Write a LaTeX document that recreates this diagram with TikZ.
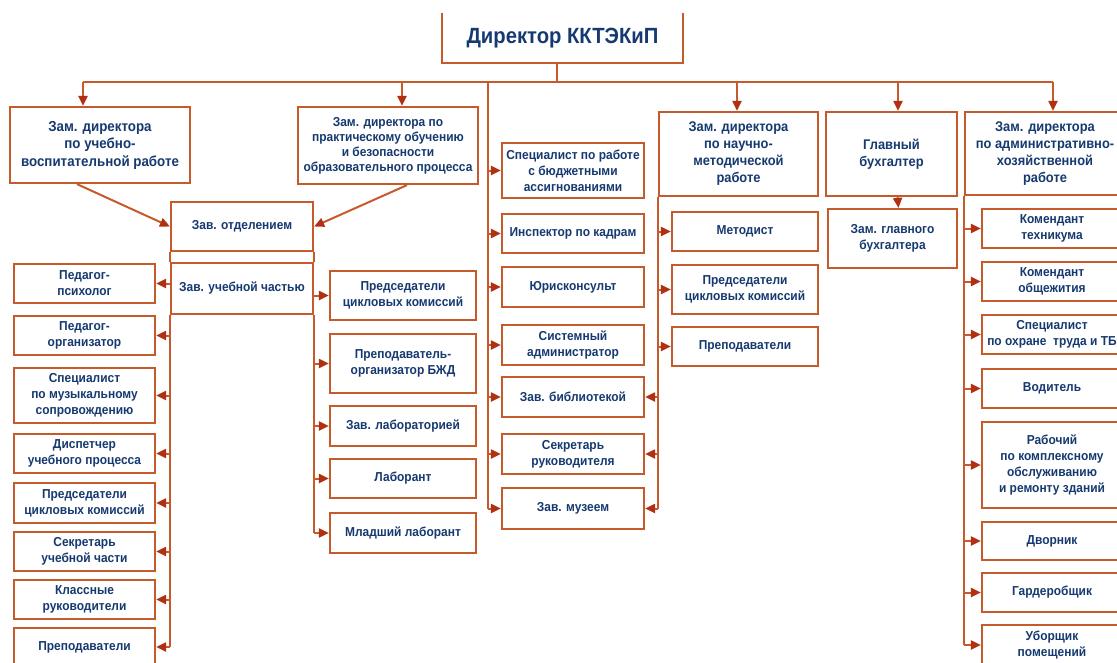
\documentclass[tikz,border=0pt]{standalone}
\usepackage{fontspec}
\newfontfamily\orgfont{Liberation Sans}[FakeStretch=0.92]
\usetikzlibrary{arrows.meta}
\definecolor{LineBrown}{RGB}{198,90,42}
\definecolor{ArrowRed}{RGB}{178,48,18}
\definecolor{TextBlue}{RGB}{22,58,112}

\begin{document}
\begin{tikzpicture}[
    x=1pt, y=-1pt,
    every node/.style={font=\orgfont\bfseries\fontsize{13}{16}\selectfont, text=TextBlue, align=center, inner sep=0pt},
    box/.style={draw=LineBrown, line width=2.2pt, fill=white},
    head/.style={box, font=\orgfont\bfseries\fontsize{14}{17}\selectfont},
    link/.style={draw=LineBrown, line width=2pt},
    arr/.style={link, -{Triangle[length=10pt,width=9pt,color=ArrowRed]}},
    leftcol/.style={box, minimum width=141pt, minimum height=39pt},
    praccol/.style={box, minimum width=146pt, minimum height=40pt},
    midcol/.style={box, minimum width=142pt, minimum height=40pt},
    metcol/.style={box, minimum width=146pt, minimum height=39pt},
    admcol/.style={box, minimum width=140pt, minimum height=39pt},
]
\useasboundingbox (0,0) rectangle (1117,662);
\clip (0,0) rectangle (1117,662);

% top level
\node[minimum width=241pt, minimum height=50pt, font=\orgfont\bfseries\fontsize{22}{26}\selectfont] (dir) at (562.5,38) {Директор ККТЭКиП};
\draw[link, line width=2.2pt] (dir.north west) |- (dir.south east) -- (dir.north east);

\node[head, minimum width=180pt, minimum height=76pt, font=\orgfont\bfseries\fontsize{14.5}{17.5}\selectfont] (zam1) at (100,145) {Зам. директора\\по учебно-\\воспитательной работе};
\node[box, minimum width=180pt, minimum height=77pt, font=\orgfont\bfseries\fontsize{13}{15}\selectfont] (zam2) at (388,145.5) {Зам. директора по\\практическому обучению\\и безопасности\\образовательного процесса};
\node[head, minimum width=159pt, minimum height=84pt] (zam3) at (738.5,154) {Зам. директора\\по научно-\\методической\\работе};
\node[head, minimum width=131pt, minimum height=84pt] (glav) at (891.5,154) {Главный\\бухгалтер};
\node[head, minimum width=160pt, minimum height=83pt] (zam4) at (1045,153.5) {Зам. директора\\по административно-\\хозяйственной\\работе};

% department heads
\node[box, minimum width=142pt, minimum height=49pt] (zotd) at (242,226.5) {Зав. отделением};
\node[box, minimum width=142pt, minimum height=51pt] (zuch) at (242,288.5) {Зав. учебной частью};

% left column
\node[leftcol] (pp) at (84.5,283.5) {Педагог-\\психолог};
\node[leftcol] (po) at (84.5,335.5) {Педагог-\\организатор};
\node[leftcol, minimum height=55pt] (sm) at (84.5,395.5) {Специалист\\по музыкальному\\сопровождению};
\node[leftcol] (disp) at (84.5,453.5) {Диспетчер\\учебного процесса};
\node[leftcol, minimum height=40pt] (pred1) at (84.5,503) {Председатели\\цикловых комиссий};
\node[leftcol] (suc) at (84.5,551.5) {Секретарь\\учебной части};
\node[leftcol] (kr) at (84.5,599.5) {Классные\\руководители};
\node[leftcol, minimum height=38pt] (prep1) at (84.5,647) {Преподаватели};

% practical training column
\node[praccol, minimum height=49pt] (pred2) at (403,295.5) {Председатели\\цикловых комиссий};
\node[praccol, minimum height=59pt] (bzd) at (403,363.5) {Преподаватель-\\организатор БЖД};
\node[praccol] (lab) at (403,426) {Зав. лабораторией};
\node[praccol, minimum height=39pt] (labt) at (403,478.5) {Лаборант};
\node[praccol] (mlab) at (403,533) {Младший лаборант};

% director's staff
\node[midcol, minimum height=55pt] (spec) at (573,170.5) {Специалист по работе\\с бюджетными\\ассигнованиями};
\node[midcol, minimum height=39pt] (insp) at (573,233.5) {Инспектор по кадрам};
\node[midcol] (jur) at (573,287) {Юрисконсульт};
\node[midcol] (sys) at (573,345) {Системный\\администратор};
\node[midcol] (bib) at (573,397) {Зав. библиотекой};
\node[midcol] (sekr) at (573,454) {Секретарь\\руководителя};
\node[midcol, minimum height=41pt] (muz) at (573,508.5) {Зав. музеем};

% methodical column
\node[metcol] (met) at (745,231.5) {Методист};
\node[metcol, minimum height=49pt] (pred3) at (745,289.5) {Председатели\\цикловых комиссий};
\node[metcol] (prep3) at (745,346.5) {Преподаватели};

% accounting
\node[box, minimum width=129pt, minimum height=59pt] (zgb) at (892.5,238.5) {Зам. главного\\бухгалтера};

% administrative column
\node[admcol] (kt) at (1052,228.5) {Комендант\\техникума};
\node[admcol] (ko) at (1052,281.5) {Комендант\\общежития};
\node[admcol] (ot) at (1052,334.5) {Специалист\\по охране~ труда и ТБ};
\node[admcol] (vod) at (1052,388.5) {Водитель};
\node[admcol, minimum height=86pt] (rab) at (1052,465) {Рабочий\\по комплексному\\обслуживанию\\и ремонту зданий};
\node[admcol, minimum height=38pt] (dv) at (1052,541) {Дворник};
\node[admcol] (gard) at (1052,592.5) {Гардеробщик};
\node[admcol, minimum height=40pt] (ub) at (1052,645) {Уборщик\\помещений};

% main bus
\coordinate (b1) at (83,82);
\coordinate (b2) at (402,82);
\coordinate (b3) at (737,82);
\coordinate (b4) at (898,82);
\coordinate (b5) at (1053,82);
\coordinate (mtop) at (488,82);
\draw[link] (b1) -- (b5);
\draw[link] ([xshift=-5.5pt]dir.south) -- ([xshift=-5.5pt]dir.south |- b1);
\foreach \b/\nm in {b1/zam1, b2/zam2, b3/zam3, b4/glav, b5/zam4}
    \draw[arr] (\b) -- (\b |- \nm.north);

% staff spine
\draw[link] (mtop) -- (mtop |- muz.west);
\foreach \nm in {spec, insp, jur, sys, bib, sekr, muz}
    \draw[arr] (mtop |- \nm.west) -- (\nm.west);

% heads of department
\draw[arr] ([xshift=-23pt]zam1.south) -- (zotd.west);
\draw[arr] ([xshift=19pt]zam2.south) -- (zotd.east);
\draw[link] (zotd.south west) -- (zuch.north west);
\draw[link] (zotd.south east) -- (zuch.north east);
\draw[link] (zuch.south west) -- (zuch.south west |- prep1.east);
\foreach \nm in {pp, po, sm, disp, pred1, suc, kr, prep1}
    \draw[arr] (zuch.south west |- \nm.east) -- (\nm.east);
\draw[link] (zuch.south east) -- (zuch.south east |- mlab.west);
\foreach \nm in {pred2, bzd, lab, labt, mlab}
    \draw[arr] (zuch.south east |- \nm.west) -- (\nm.west);

% methodical spine
\draw[link] (zam3.south west) -- (zam3.south west |- muz.east);
\foreach \nm in {met, pred3, prep3}
    \draw[arr] (zam3.south west |- \nm.west) -- (\nm.west);
\foreach \nm in {bib, sekr, muz}
    \draw[arr] (zam3.south west |- \nm.east) -- (\nm.east);

% accounting
\draw[arr] ([xshift=6pt]glav.south) -- ([xshift=6pt]zgb.north);

% administrative spine
\draw[link] (zam4.south west) -- (zam4.south west |- ub.west);
\foreach \nm in {kt, ko, ot, vod, rab, dv, gard, ub}
    \draw[arr] (zam4.south west |- \nm.west) -- (\nm.west);
\end{tikzpicture}
\end{document}
